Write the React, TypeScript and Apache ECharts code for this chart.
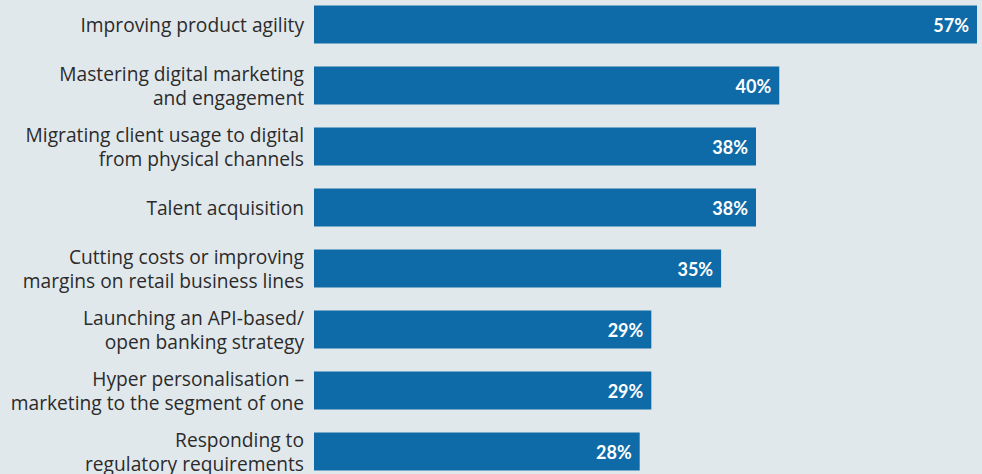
import React, { useEffect, useRef } from "react";
import * as echarts from "echarts";

const categories = [
  "Improving product agility",
  "Mastering digital marketing\nand engagement",
  "Migrating client usage to digital\nfrom physical channels",
  "Talent acquisition",
  "Cutting costs or improving\nmargins on retail business lines",
  "Launching an API-based/\nopen banking strategy",
  "Hyper personalisation –\nmarketing to the segment of one",
  "Responding to\nregulatory requirements",
];
const values = [57, 40, 38, 38, 35, 29, 29, 28];

export default function App() {
  const ref = useRef<HTMLDivElement>(null);
  useEffect(() => {
    if (!ref.current) return;
    const chart = echarts.init(ref.current, undefined, { renderer: "svg" });
    chart.setOption({
      animation: false,
      backgroundColor: "#e1e8eb",
      grid: { left: 314, right: 5, top: 0, bottom: 0 },
      xAxis: {
        type: "value",
        min: 0,
        max: 57,
        show: false,
      },
      yAxis: {
        type: "category",
        data: categories,
        inverse: true,
        axisLine: { show: false },
        axisTick: { show: false },
        splitLine: { show: false },
        axisLabel: {
          color: "#2b2b2b",
          fontSize: 19.2,
          fontFamily: "Open Sans",
          lineHeight: 24,
          margin: 10,
          align: "right",
        },
      },
      series: [
        {
          type: "bar",
          data: values,
          barWidth: 38,
          itemStyle: { color: "#0f6ba8" },
          label: {
            show: true,
            position: "insideRight",
            distance: 8,
            formatter: "{c}%",
            color: "#ffffff",
            fontSize: 18,
            fontWeight: "bold",
            fontFamily: "Lato",
          },
        },
      ],
    });
    return () => chart.dispose();
  }, []);
  return (
    <div
      ref={ref}
      style={{ position: "fixed", left: 0, top: -6.5, width: 982, height: 488 }}
    />
  );
}
